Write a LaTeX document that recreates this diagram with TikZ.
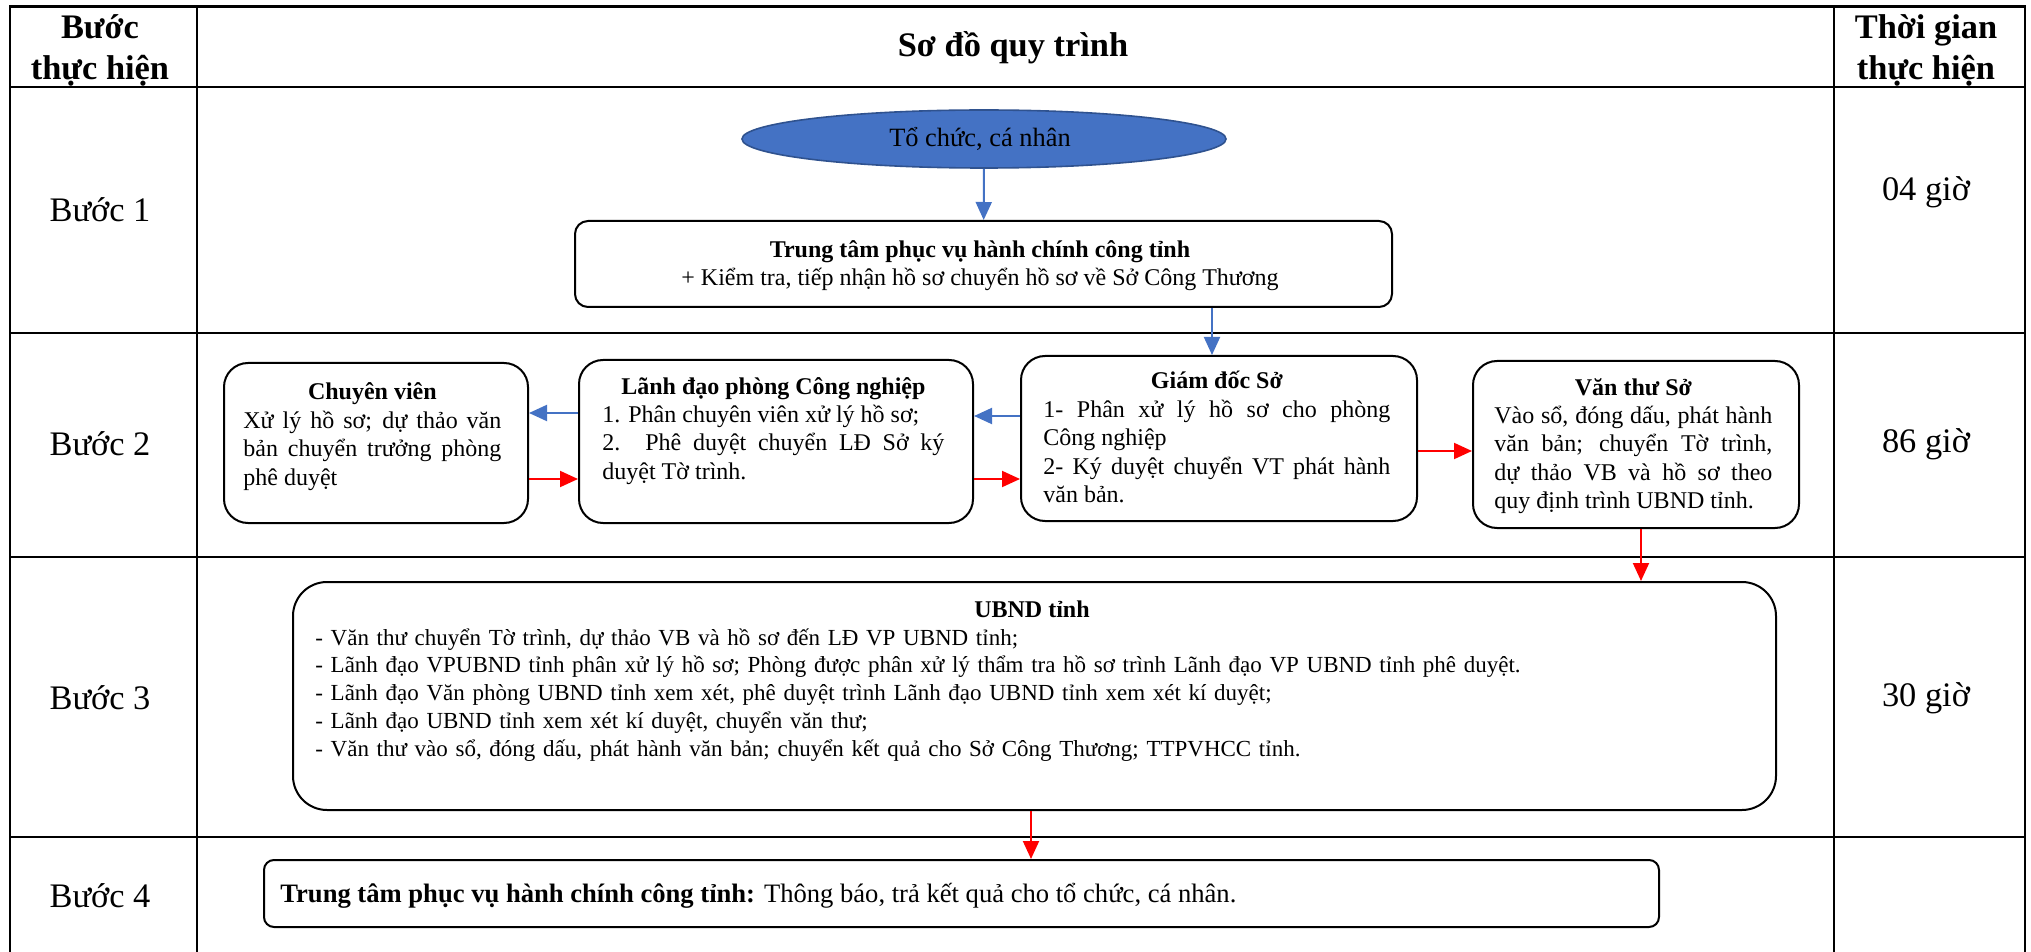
\documentclass[tikz,border=0pt]{standalone}
\usepackage{fontspec}
\setmainfont{Liberation Serif}
\usetikzlibrary{arrows.meta,calc,shapes.geometric}
\definecolor{ablue}{HTML}{4472C4}
\definecolor{eborder}{HTML}{2F528F}
\definecolor{ared}{HTML}{FF0000}
\begin{document}
\begin{tikzpicture}[x=0.5pt,y=-0.5pt,
  tbl/.style={line width=1.3pt},
  rbox/.style={draw, line width=1pt, rounded corners=#1, inner sep=0pt},
  txt/.style={inner sep=0pt, font=\fontsize{12}{14.2}\selectfont},
  para/.style={txt, align=justify, text width=#1, anchor=base west},
  big/.style={inner sep=0pt, font=\fontsize{17.2}{20.5}\selectfont, align=center},
  bigb/.style={big, font=\fontsize{17.2}{20.5}\selectfont\bfseries},
  barrow/.style={draw=ablue, line width=1pt, -{Triangle[length=9pt,width=8pt]}, ablue},
  rarrow/.style={draw=ared, line width=1pt, -{Triangle[length=9pt,width=8pt]}, ared}
]
\useasboundingbox (0,0) rectangle (2031,952);
\hyphenpenalty=10000
% table
\draw[tbl] (10,952) -- (10,6.5) -- (2025,6.5) -- (2025,952);
\foreach \yy in {87,333,557,837} \draw[tbl] (10,\yy) -- (2025,\yy);
\draw[tbl] (197,6.5) -- (197,952);
\draw[tbl] (1834,6.5) -- (1834,952);
% headers
\node[bigb] (h1) at (100,50.5) {Bước\\thực hiện};
\node[bigb] (h2) at (1013,48) {Sơ đồ quy trình};
\node[bigb] (h3) at (1926,50.5) {Thời gian\\thực hiện};
\node[big] (s1) at (100,210) {Bước 1};
\node[big] (s2) at (100,444) {Bước 2};
\node[big] (s3) at (100,698) {Bước 3};
\node[big] (s4) at (100,896) {Bước 4};
\node[big] (t1) at (1926,192) {04 giờ};
\node[big] (t2) at (1926,444) {86 giờ};
\node[big] (t3) at (1926,698) {30 giờ};
% step 1
\node[ellipse, draw=eborder, fill=ablue, line width=0.8pt, minimum width=242pt, minimum height=29pt, inner sep=0pt] (org) at (984,139) {};
\node[txt, font=\fontsize{13.2}{15}\selectfont] (orgt) at (980,139) {Tổ chức, cá nhân};
\node[rbox=6.5pt, minimum width=408.5pt, minimum height=43pt] (tt) at (983.5,264) {};
\node[txt, anchor=base] (tt1) at (980,258) {\bfseries Trung tâm phục vụ hành chính công tỉnh};
\node[txt, anchor=base] (tt2) at (980,286) {+ Kiểm tra, tiếp nhận hồ sơ chuyển hồ sơ về Sở Công Thương};
% step 2
\node[rbox=12pt, minimum width=152pt, minimum height=80pt] (cv) at (376,443) {};
\node[para=129pt] (cvt) at (243,400) {{\centering\bfseries Chuyên viên\par}Xử lý hồ sơ; dự thảo văn\linebreak bản chuyển trưởng phòng\linebreak phê duyệt};
\node[rbox=12pt, minimum width=197pt, minimum height=81.5pt] (ld) at (776,441.5) {};
\node[para=171pt] (ldt) at (602,394) {{\centering\bfseries Lãnh đạo phòng Công nghiệp\par}1. Phân chuyên viên xử lý hồ sơ;\par 2. Phê duyệt chuyển LĐ Sở ký\linebreak duyệt Tờ trình.};
\node[rbox=12pt, minimum width=198pt, minimum height=82.5pt] (gd) at (1219,438.5) {};
\node[para=173.5pt] (gdt) at (1043,389) {{\centering\bfseries Giám đốc Sở\par}1- Phân xử lý hồ sơ cho phòng\linebreak Công nghiệp\par 2- Ký duyệt chuyển VT phát hành\linebreak văn bản.};
\node[rbox=12pt, minimum width=163pt, minimum height=83.5pt] (vt) at (1636,444.5) {};
\node[para=139pt] (vtt) at (1494,395) {{\centering\bfseries Văn thư Sở\par}Vào sổ, đóng dấu, phát hành\linebreak văn bản; chuyển Tờ trình,\linebreak dự thảo VB và hồ sơ theo\linebreak quy định trình UBND tỉnh.};
% step 3
\node[rbox=17pt, minimum width=741.5pt, minimum height=114pt] (ub) at (1034.5,696) {};
\node[txt, anchor=base] (ubt) at (1032,617) {\bfseries UBND tỉnh};
\node[txt, anchor=base west, align=left, text width=720pt, font=\fontsize{11.5}{13.9}\selectfont] (ubb) at (315,645) {- Văn thư chuyển Tờ trình, dự thảo VB và hồ sơ đến LĐ VP UBND tỉnh;\\
- Lãnh đạo VPUBND tỉnh phân xử lý hồ sơ; Phòng được phân xử lý thẩm tra hồ sơ trình Lãnh đạo VP UBND tỉnh phê duyệt.\\
- Lãnh đạo Văn phòng UBND tỉnh xem xét, phê duyệt trình Lãnh đạo UBND tỉnh xem xét kí duyệt;\\
- Lãnh đạo UBND tỉnh xem xét kí duyệt, chuyển văn thư;\\
- Văn thư vào sổ, đóng dấu, phát hành văn bản; chuyển kết quả cho Sở Công Thương; TTPVHCC tỉnh.};
% step 4
\node[rbox=5pt, minimum width=697.5pt, minimum height=33.5pt] (bt) at (961.5,893.5) {};
\node[txt, anchor=base west, font=\fontsize{13.3}{15}\selectfont] (btt) at (280,902) {\textbf{Trung tâm phục vụ hành chính công tỉnh:} Thông báo, trả kết quả cho tổ chức, cá nhân.};
% connectors
\coordinate (ya) at (0,413);
\coordinate (yb) at (0,479);
\coordinate (yc) at (0,416);
\coordinate (yd) at (0,451);
\coordinate (xa) at (1212,0);
\coordinate (xb) at (1641,0);
\coordinate (xc) at (1031,0);
\draw[barrow] (org) -- (tt);
\draw[barrow] (tt.south -| xa) -- (gd.north -| xa);
\draw[barrow] (ld.west |- ya) -- (cv.east |- ya);
\draw[rarrow] (cv.east |- yb) -- (ld.west |- yb);
\draw[barrow] (gd.west |- yc) -- (ld.east |- yc);
\draw[rarrow] (ld.east |- yb) -- (gd.west |- yb);
\draw[rarrow] (gd.east |- yd) -- (vt.west |- yd);
\draw[rarrow] (vt.south -| xb) -- (ub.north -| xb);
\draw[rarrow] (ub.south -| xc) -- (bt.north -| xc);
\end{tikzpicture}
\end{document}
